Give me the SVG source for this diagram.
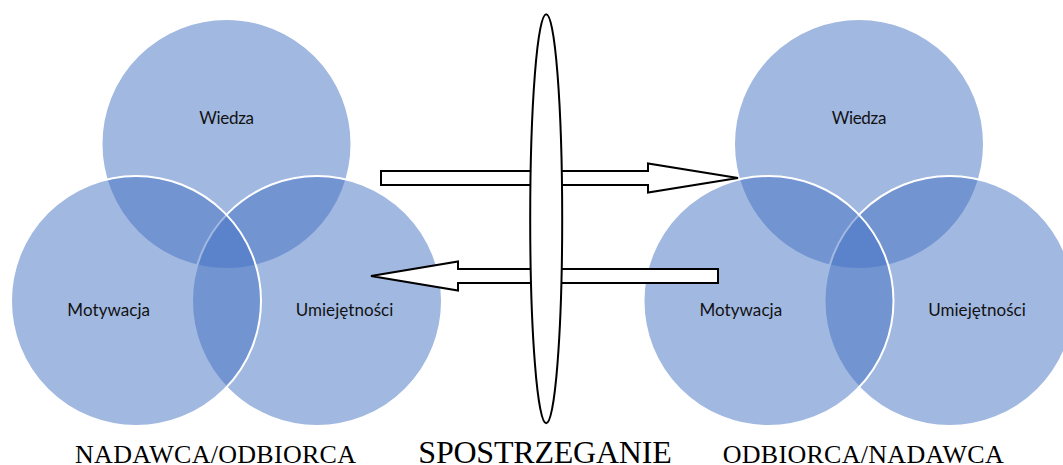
<svg xmlns="http://www.w3.org/2000/svg" width="1063" height="465" viewBox="0 0 1063 465">
  <style>
    .set { fill: #4472C4; fill-opacity: 0.5; stroke: #FFFFFF; stroke-width: 2; }
    .lbl { font-family: Lato, "Open Sans", sans-serif; font-size: 17px; fill: #111111; text-anchor: middle; }
    .cap { font-family: "Liberation Serif", "Times New Roman", serif; fill: #000000; }
    .arrow { fill: #FFFFFF; stroke: #000000; stroke-width: 2; stroke-linejoin: miter; }
    .lens { fill: #FFFFFF; stroke: #000000; stroke-width: 2; }
  </style>

  <!-- Left three-set diagram -->
  <g id="venn-left">
    <g id="left-wiedza">
      <circle class="set" cx="226.5" cy="144" r="125"/>
    </g>
    <g id="left-umiejetnosci">
      <circle class="set" cx="317" cy="301" r="125"/>
    </g>
    <g id="left-motywacja">
      <circle class="set" cx="136" cy="301" r="125"/>
    </g>
    <text class="lbl" x="226.7" y="124" textLength="54.7">Wiedza</text>
    <text class="lbl" x="108.7" y="316" textLength="82.7">Motywacja</text>
    <text class="lbl" x="344.5" y="316" textLength="97.7">Umiejętności</text>
  </g>

  <!-- Right three-set diagram -->
  <g id="venn-right">
    <g id="right-wiedza">
      <circle class="set" cx="859" cy="144" r="125"/>
    </g>
    <g id="right-umiejetnosci">
      <circle class="set" cx="949.5" cy="301" r="125"/>
    </g>
    <g id="right-motywacja">
      <circle class="set" cx="768.5" cy="301" r="125"/>
    </g>
    <text class="lbl" x="859" y="124" textLength="54.7">Wiedza</text>
    <text class="lbl" x="740.8" y="316" textLength="82.7">Motywacja</text>
    <text class="lbl" x="977" y="316" textLength="97.7">Umiejętności</text>
  </g>

  <!-- Block arrows passing through the perception lens -->
  <g id="connectors">
    <path class="arrow" d="M381,171 H648 V163.5 L738,178 L648,192.5 V185 H381 Z"/>
    <path class="arrow" d="M718,269 H458 V261.5 L371,276 L458,290.5 V283 H718 Z"/>
  </g>

  <!-- Perception lens -->
  <g id="spostrzeganie">
    <ellipse class="lens" cx="546.2" cy="218.8" rx="16" ry="204.5"/>
  </g>

  <!-- Captions -->
  <g id="captions">
    <text class="cap" x="75" y="462.7" font-size="26" textLength="281">NADAWCA/ODBIORCA</text>
    <text class="cap" x="418.3" y="462.7" font-size="32" textLength="253.4">SPOSTRZEGANIE</text>
    <text class="cap" x="722.7" y="462.7" font-size="26" textLength="281">ODBIORCA/NADAWCA</text>
  </g>
</svg>
